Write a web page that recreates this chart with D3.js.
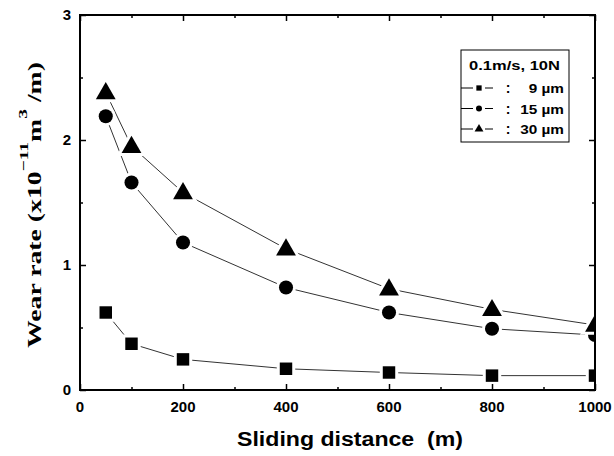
<!DOCTYPE html>
<html>
<head>
<meta charset="utf-8">
<script src="https://cdn.jsdelivr.net/npm/d3@7"></script>
<style>
  body { margin: 0; background: #fff; }
  svg text { font-family: "Liberation Sans", Arial, sans-serif; font-weight: bold; fill: #000; }
</style>
</head>
<body>
<script>
// data
const distances = [50, 100, 200, 400, 600, 800, 1000];
const wear9  = [0.62, 0.37, 0.245, 0.17, 0.14, 0.115, 0.115];
const wear15 = [2.19, 1.66, 1.18, 0.82, 0.62, 0.49, 0.44];
const wear30 = [2.38, 1.95, 1.58, 1.13, 0.81, 0.645, 0.52];
const seriesNames = ["9 \u00b5m", "15 \u00b5m", "30 \u00b5m"];
const seriesSymbols = [d3.symbolSquare, d3.symbolCircle, d3.symbolTriangle];
const xTicks = [0, 200, 400, 600, 800, 1000];
const yTicks = [0, 1, 2, 3];
const legendTitle = "0.1m/s, 10N";

const width = 614, height = 456;
const margin = {left: 80, right: 19, top: 15, bottom: 66};

const svg = d3.select("body").append("svg")
  .attr("width", width)
  .attr("height", height);

const x = d3.scaleLinear().domain([0, 1000]).range([margin.left, width - margin.right]);
const y = d3.scaleLinear().domain([0, 3]).range([height - margin.bottom, margin.top]);

// the original lettering is drawn wider than the font, so stretch it along its run
function stretchTo(g, len) {
  const w = g.select("text").node().getBBox().width;
  g.attr("transform", g.attr("transform") + ` scale(${len / w},1)`);
}

svg.append("clipPath").attr("id", "plot")
  .append("rect")
  .attr("x", x(0)).attr("y", y(3))
  .attr("width", x(1000) - x(0)).attr("height", y(0) - y(3));

const series = [wear9, wear15, wear30].map((vals, i) => ({
  name: seriesNames[i],
  symbol: seriesSymbols[i],
  points: distances.map((d, j) => ({x: d, y: vals[j]}))
}));

const sizes = [155, 155, 170];

const g = svg.append("g").attr("clip-path", "url(#plot)");
const line = d3.line().x(d => x(d.x)).y(d => y(d.y));

series.forEach(s => {
  g.append("path")
    .attr("d", line(s.points))
    .attr("fill", "none")
    .attr("stroke", "#333")
    .attr("stroke-width", 1);
});

series.forEach((s, i) => {
  g.selectAll(null)
    .data(s.points)
    .join("path")
    .attr("transform", d => `translate(${x(d.x)},${y(d.y) + (i === 2 ? 1 : 0)})`)
    .attr("d", d3.symbol(s.symbol, sizes[i]))
    .attr("fill", "#000")
    .attr("stroke", "#fff")
    .attr("stroke-width", 6)
    .attr("paint-order", "stroke");
});

// axes: ticks inward on all four sides
const xMinor = d3.range(100, 1000, 200);
const yMinor = [0.5, 1.5, 2.5];

function ticks(axis, tx, ty, vals, len) {
  svg.append("g")
    .attr("transform", `translate(${tx},${ty})`)
    .call(axis.tickValues(vals).tickSize(len).tickFormat(""))
    .call(a => a.select(".domain").remove());
}
ticks(d3.axisTop(x), 0, y(0), xTicks, 6);
ticks(d3.axisTop(x), 0, y(0), xMinor, 3);
ticks(d3.axisBottom(x), 0, y(3), xTicks, 6);
ticks(d3.axisBottom(x), 0, y(3), xMinor, 3);
ticks(d3.axisRight(y), x(0), 0, yTicks, 6);
ticks(d3.axisRight(y), x(0), 0, yMinor, 3);
ticks(d3.axisLeft(y), x(1000), 0, yTicks, 6);
ticks(d3.axisLeft(y), x(1000), 0, yMinor, 3);
svg.selectAll(".tick line").attr("stroke", "#000").attr("stroke-width", 1.5);

// frame
svg.append("rect")
  .attr("x", x(0)).attr("y", y(3))
  .attr("width", x(1000) - x(0)).attr("height", y(0) - y(3))
  .attr("fill", "none").attr("stroke", "#000").attr("stroke-width", 2);

// tick labels
svg.selectAll(".xlab").data(xTicks).join("text")
  .attr("x", d => x(d)).attr("y", y(0) + 22)
  .attr("text-anchor", "middle")
  .style("font-size", "15px")
  .text(d => d);
svg.selectAll(".ylab").data(yTicks).join("text")
  .attr("x", x(0) - 9).attr("y", d => y(d) + 5)
  .attr("text-anchor", "end")
  .style("font-size", "15px")
  .text(d => d);

// axis titles
const xt = svg.append("g").attr("transform", "translate(350,446)");
xt.append("text")
  .attr("text-anchor", "middle")
  .style("font-size", "19.5px")
  .attr("xml:space", "preserve")
  .text("Sliding distance  (m)");
stretchTo(xt, 226);

const ytg = svg.append("g").attr("transform", "translate(41,205) rotate(-90)");
const yt = ytg.append("text")
  .attr("text-anchor", "middle")
  .style("font-family", "'Liberation Serif', 'Times New Roman', serif")
  .style("font-size", "18.5px");
yt.append("tspan").text("Wear rate (x10");
yt.append("tspan").attr("dy", -13).style("font-size", "13px").text("\u221211");
yt.append("tspan").attr("dy", 13).text("m");
yt.append("tspan").attr("dy", -14).style("font-size", "13px").text("3");
yt.append("tspan").attr("dy", 14).text(" /m)");
stretchTo(ytg, 286);

// legend
const lg = svg.append("g");
lg.append("rect")
  .attr("x", 461).attr("y", 50).attr("width", 108).attr("height", 92)
  .attr("fill", "#fff").attr("stroke", "#000").attr("stroke-width", 1);
const lt = lg.append("g").attr("transform", "translate(514.5,70)");
lt.append("text")
  .attr("text-anchor", "middle")
  .style("font-size", "13px")
  .text(legendTitle);
stretchTo(lt, 91);

series.forEach((s, i) => {
  const cy = 88 + i * 20.5;
  lg.append("line").attr("x1", 461).attr("x2", 473).attr("y1", cy).attr("y2", cy)
    .attr("stroke", "#000").attr("stroke-width", 1);
  lg.append("line").attr("x1", 485).attr("x2", 493).attr("y1", cy).attr("y2", cy)
    .attr("stroke", "#000").attr("stroke-width", 1);
  lg.append("path")
    .attr("transform", `translate(479,${cy})`)
    .attr("d", d3.symbol(s.symbol, i === 2 ? 34 : 28))
    .attr("fill", "#000");
  lg.append("text").attr("x", 508).attr("y", cy + 5)
    .attr("text-anchor", "middle")
    .style("font-size", "14px").text(":");
  const nt = lg.append("g").attr("transform", `translate(564,${cy + 5})`);
  nt.append("text")
    .attr("text-anchor", "end")
    .style("font-size", "13px").text(s.name);
  nt.attr("transform", nt.attr("transform") + " scale(1.18,1)");
});
</script>
</body>
</html>
